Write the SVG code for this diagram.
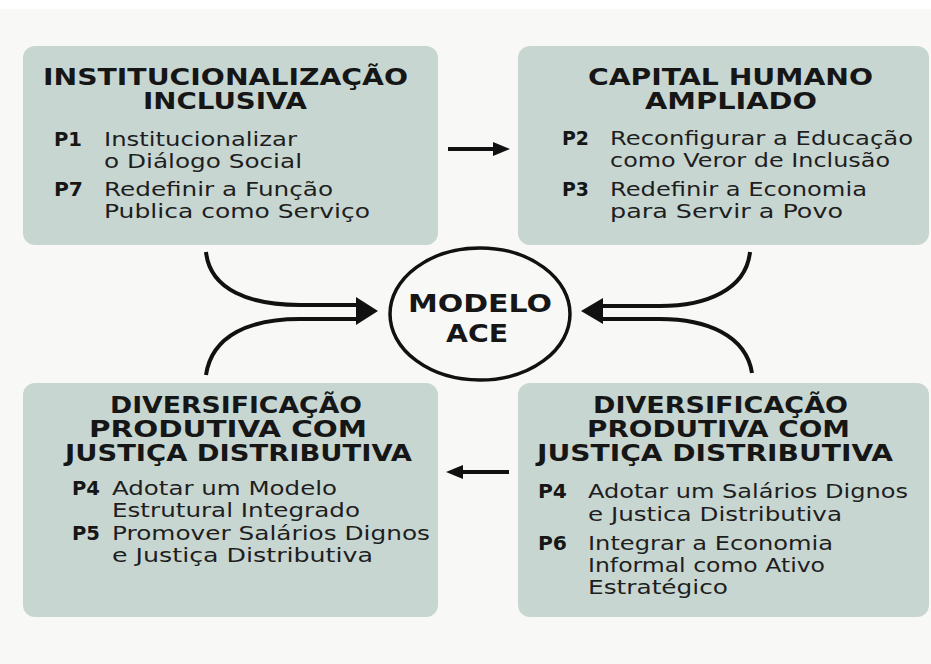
<svg xmlns="http://www.w3.org/2000/svg" width="931" height="664" viewBox="0 0 931 664">
<style>
.box{fill:#c8d6d2;}
.t{font-family:"DejaVu Sans","Liberation Sans",sans-serif;font-weight:bold;font-size:23px;fill:#161616;}
.p{font-family:"DejaVu Sans","Liberation Sans",sans-serif;font-weight:bold;font-size:20px;fill:#161616;}
.b{font-family:"DejaVu Sans","Liberation Sans",sans-serif;font-size:20px;fill:#1e1e1e;}
.m{font-family:"DejaVu Sans","Liberation Sans",sans-serif;font-weight:bold;font-size:25px;fill:#161616;}
.ln{fill:none;stroke:#111;stroke-width:4;stroke-linecap:butt;}
.ar{fill:#111;}
</style>
<rect x="0" y="0" width="931" height="664" fill="#f8f8f6"/>
<rect x="0" y="0" width="931" height="9" fill="#ffffff"/>

<g id="node-institucionalizacao">
<rect class="box" x="23" y="46" width="415" height="199" rx="12"/>
<text class="t" x="43" y="85" textLength="365" lengthAdjust="spacingAndGlyphs">INSTITUCIONALIZAÇÃO</text>
<text class="t" x="143" y="109" textLength="164" lengthAdjust="spacingAndGlyphs">INCLUSIVA</text>
<text class="p" x="54" y="146" textLength="28" lengthAdjust="spacingAndGlyphs">P1</text>
<text class="b" x="104" y="146" textLength="193" lengthAdjust="spacingAndGlyphs">Institucionalizar</text>
<text class="b" x="104" y="168" textLength="198" lengthAdjust="spacingAndGlyphs">o Diálogo Social</text>
<text class="p" x="54" y="196" textLength="29" lengthAdjust="spacingAndGlyphs">P7</text>
<text class="b" x="104" y="196" textLength="229" lengthAdjust="spacingAndGlyphs">Redefinir a Função</text>
<text class="b" x="104" y="218" textLength="266" lengthAdjust="spacingAndGlyphs">Publica como Serviço</text>
</g>

<g id="node-capital-humano">
<rect class="box" x="518" y="46" width="411" height="199" rx="12"/>
<text class="t" x="588" y="85" textLength="285" lengthAdjust="spacingAndGlyphs">CAPITAL HUMANO</text>
<text class="t" x="645" y="109" textLength="172" lengthAdjust="spacingAndGlyphs">AMPLIADO</text>
<text class="p" x="562" y="145" textLength="27" lengthAdjust="spacingAndGlyphs">P2</text>
<text class="b" x="610" y="145" textLength="303" lengthAdjust="spacingAndGlyphs">Reconfigurar a Educação</text>
<text class="b" x="610" y="167" textLength="280" lengthAdjust="spacingAndGlyphs">como Veror de Inclusão</text>
<text class="p" x="562" y="196" textLength="27" lengthAdjust="spacingAndGlyphs">P3</text>
<text class="b" x="610" y="196" textLength="257" lengthAdjust="spacingAndGlyphs">Redefinir a Economia</text>
<text class="b" x="610" y="218" textLength="233" lengthAdjust="spacingAndGlyphs">para Servir a Povo</text>
</g>

<g id="node-diversificacao-esq">
<rect class="box" x="23" y="383" width="415" height="234" rx="12"/>
<text class="t" x="110" y="413" textLength="252" lengthAdjust="spacingAndGlyphs">DIVERSIFICAÇÃO</text>
<text class="t" x="89" y="437" textLength="278" lengthAdjust="spacingAndGlyphs">PRODUTIVA COM</text>
<text class="t" x="65" y="461" textLength="347" lengthAdjust="spacingAndGlyphs">JUSTIÇA DISTRIBUTIVA</text>
<text class="p" x="72" y="495" textLength="28" lengthAdjust="spacingAndGlyphs">P4</text>
<text class="b" x="112" y="495" textLength="225" lengthAdjust="spacingAndGlyphs">Adotar um Modelo</text>
<text class="b" x="112" y="517" textLength="248" lengthAdjust="spacingAndGlyphs">Estrutural Integrado</text>
<text class="p" x="72" y="540" textLength="28" lengthAdjust="spacingAndGlyphs">P5</text>
<text class="b" x="112" y="540" textLength="318" lengthAdjust="spacingAndGlyphs">Promover Salários Dignos</text>
<text class="b" x="112" y="562" textLength="261" lengthAdjust="spacingAndGlyphs">e Justiça Distributiva</text>
</g>

<g id="node-diversificacao-dir">
<rect class="box" x="518" y="383" width="411" height="234" rx="12"/>
<text class="t" x="593" y="413" textLength="255" lengthAdjust="spacingAndGlyphs">DIVERSIFICAÇÃO</text>
<text class="t" x="587" y="437" textLength="263" lengthAdjust="spacingAndGlyphs">PRODUTIVA COM</text>
<text class="t" x="537" y="461" textLength="356" lengthAdjust="spacingAndGlyphs">JUSTIÇA DISTRIBUTIVA</text>
<text class="p" x="538" y="498" textLength="29" lengthAdjust="spacingAndGlyphs">P4</text>
<text class="b" x="588" y="498" textLength="320" lengthAdjust="spacingAndGlyphs">Adotar um Salários Dignos</text>
<text class="b" x="588" y="521" textLength="254" lengthAdjust="spacingAndGlyphs">e Justica Distributiva</text>
<text class="p" x="538" y="550" textLength="29" lengthAdjust="spacingAndGlyphs">P6</text>
<text class="b" x="588" y="550" textLength="245" lengthAdjust="spacingAndGlyphs">Integrar a Economia</text>
<text class="b" x="588" y="572" textLength="237" lengthAdjust="spacingAndGlyphs">Informal como Ativo</text>
<text class="b" x="588" y="594" textLength="140" lengthAdjust="spacingAndGlyphs">Estratégico</text>
</g>

<g id="node-modelo-ace">
<ellipse cx="480" cy="314" rx="90" ry="66" fill="none" stroke="#111" stroke-width="3.5"/>
<text class="m" x="408" y="312" textLength="144" lengthAdjust="spacingAndGlyphs">MODELO</text>
<text class="m" x="446" y="342" textLength="62" lengthAdjust="spacingAndGlyphs">ACE</text>
</g>

<g id="connectors">
<path class="ln" d="M206,252 C210,290 250,305 300,305 L358,305"/>
<path class="ln" d="M206,375 C212,335 250,319 300,319 L358,319"/>
<polygon class="ar" points="356,297 378,311 356,325"/>
<path class="ln" d="M750,252 C746,290 706,306 660,306 L601,306"/>
<path class="ln" d="M752,373 C746,335 706,319 660,319 L601,319"/>
<polygon class="ar" points="603,298 581,311 603,324"/>
<line class="ln" x1="448" y1="149" x2="495" y2="149" stroke-width="3.5"/>
<polygon class="ar" points="493,142 510,149 493,156"/>
<line class="ln" x1="509" y1="472" x2="461" y2="472" stroke-width="3.5"/>
<polygon class="ar" points="463,465 446,472 463,479"/>
</g>
</svg>
